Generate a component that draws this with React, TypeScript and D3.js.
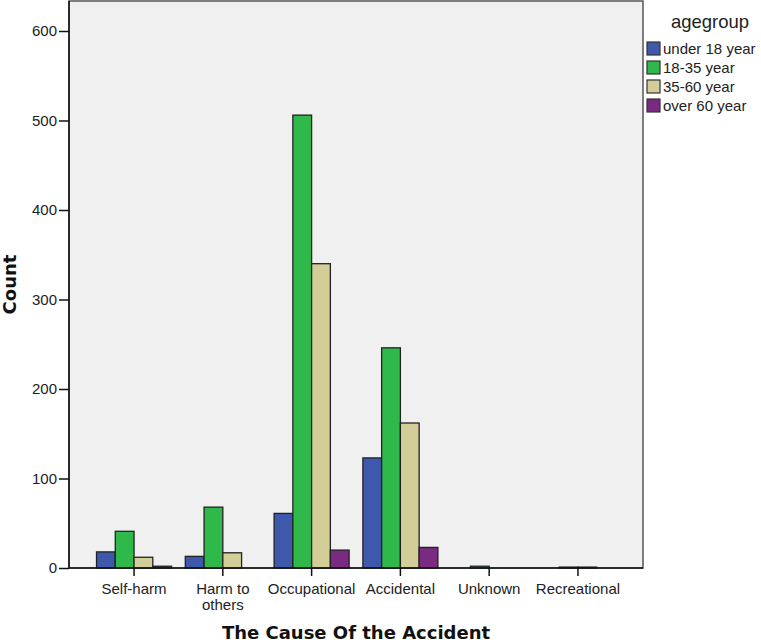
import React, { useEffect, useRef } from "react";
import * as d3 from "d3";

const categories = ["Self-harm", "Harm to others", "Occupational", "Accidental", "Unknown", "Recreational"];
const seriesNames = ["under 18 year", "18-35 year", "35-60 year", "over 60 year"];
const under18 = [18, 13, 61, 123, 0, 0];
const age18to35 = [41, 68, 506, 246, 2, 1];
const age35to60 = [12, 17, 340, 162, 0, 1];
const over60 = [2, 0, 20, 23, 0, 0];
const yTicks = [0, 100, 200, 300, 400, 500, 600];
const colors = ["#3e58ac", "#2fb94a", "#d3ce97", "#7b2a81"];

export default function App() {
	const ref = useRef<SVGSVGElement>(null);

	useEffect(() => {
		const width = 761;
		const height = 644;
		const left = 69;
		const right = 643;
		const top = 1;
		const bottom = 568;
		const series = [under18, age18to35, age35to60, over60];
		const font = "'Liberation Sans', Arial, sans-serif";

		const svg = d3.select(ref.current);
		svg.selectAll("*").remove();
		svg.attr("width", width).attr("height", height);

		svg.append("rect").attr("width", width).attr("height", height).attr("fill", "#ffffff");

		const x = d3
			.scaleBand()
			.domain(categories)
			.range([left, right])
			.paddingInner(0.155)
			.paddingOuter(0.31);
		const xs = d3.scaleBand().domain(seriesNames).range([0, x.bandwidth()]);
		const y = d3.scaleLinear().domain([0, 600]).range([bottom, 31]);

		// plot background
		svg
			.append("rect")
			.attr("x", left)
			.attr("y", top)
			.attr("width", right - left)
			.attr("height", bottom - top)
			.attr("fill", "#f0f0f0")
			.attr("stroke", "#555")
			.attr("stroke-width", 1.5);

		// bars
		const rows = categories.flatMap((c, i) =>
			series.map((s, k) => ({ cat: c, name: seriesNames[k], value: s[i], k }))
		);
		svg
			.append("g")
			.selectAll("rect")
			.data(rows.filter((d) => d.value > 0))
			.join("rect")
			.attr("x", (d) => (x(d.cat) as number) + (xs(d.name) as number))
			.attr("y", (d) => y(d.value))
			.attr("width", xs.bandwidth())
			.attr("height", (d) => y(0) - y(d.value))
			.attr("fill", (d) => colors[d.k])
			.attr("stroke", "#222")
			.attr("stroke-width", 1.3);

		// y axis
		const yAxis = svg.append("g").attr("transform", `translate(${left},0)`);
		yAxis
			.call(d3.axisLeft(y).tickValues(yTicks).tickSize(10).tickPadding(2))
			.attr("font-family", font)
			.attr("font-size", 15);
		yAxis.select(".domain").attr("stroke", "#111").attr("stroke-width", 1.5).attr("d", `M0,${top}V${bottom}`);
		yAxis.selectAll(".tick line").attr("stroke", "#111").attr("stroke-width", 1.5);
		yAxis.selectAll(".tick text").attr("fill", "#222");

		// x axis
		const xAxis = svg.append("g").attr("transform", `translate(0,${bottom})`);
		xAxis.call(d3.axisBottom(x).tickSize(8).tickFormat(() => ""));
		xAxis.select(".domain").attr("stroke", "#111").attr("stroke-width", 1.5).attr("d", `M${left},0H${right}`);
		xAxis.selectAll(".tick line").attr("stroke", "#111").attr("stroke-width", 1.5);

		const labelLines: Record<string, string[]> = { "Harm to others": ["Harm to", "others"] };
		categories.forEach((c) => {
			const cx = (x(c) as number) + x.bandwidth() / 2;
			const lines = labelLines[c] || [c];
			lines.forEach((l, i) => {
				svg
					.append("text")
					.attr("x", cx)
					.attr("y", 594 + i * 15.5)
					.attr("text-anchor", "middle")
					.attr("font-family", font)
					.attr("font-size", 15)
					.attr("fill", "#222")
					.text(l);
			});
		});

		// axis titles
		svg
			.append("text")
			.attr("x", (left + right) / 2)
			.attr("y", 639)
			.attr("text-anchor", "middle")
			.attr("font-family", "'DejaVu Sans', Verdana, sans-serif")
			.attr("font-weight", "bold")
			.attr("font-size", 18)
			.attr("fill", "#111")
			.text("The Cause Of the Accident");
		svg
			.append("text")
			.attr("transform", `translate(16,${(top + bottom) / 2}) rotate(-90)`)
			.attr("text-anchor", "middle")
			.attr("font-family", "'DejaVu Sans', Verdana, sans-serif")
			.attr("font-weight", "bold")
			.attr("font-size", 18)
			.attr("fill", "#111")
			.text("Count");

		// legend
		const legend = svg.append("g");
		legend
			.append("text")
			.attr("x", 710)
			.attr("y", 28)
			.attr("text-anchor", "middle")
			.attr("font-family", font)
			.attr("font-size", 18.5)
			.attr("fill", "#222")
			.text("agegroup");
		const item = legend
			.selectAll("g")
			.data(seriesNames)
			.join("g")
			.attr("transform", (d, i) => `translate(647,${42 + i * 19})`);
		item
			.append("rect")
			.attr("width", 13)
			.attr("height", 13)
			.attr("fill", (d, i) => colors[i])
			.attr("stroke", "#333")
			.attr("stroke-width", 1.2);
		item
			.append("text")
			.attr("x", 16)
			.attr("y", 12)
			.attr("font-family", font)
			.attr("font-size", 15)
			.attr("fill", "#222")
			.text((d) => d);
	}, []);

	return <svg ref={ref} style={{ position: "absolute", left: 0, top: 0, display: "block" }} />;
}
